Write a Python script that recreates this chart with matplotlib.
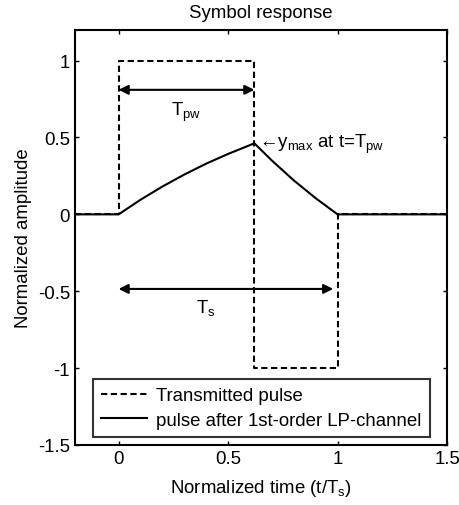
import matplotlib
matplotlib.use('Agg')
import matplotlib.pyplot as plt

plt.rcParams['font.family'] = ['Liberation Sans', 'DejaVu Sans']
plt.rcParams['mathtext.default'] = 'regular'
plt.rcParams['font.size'] = 13.4

# Transmitted pulse (dashed)
tx_t = [-0.2, 0.0, 0.0, 0.62, 0.62, 1.0, 1.0, 1.5]
tx_y = [0.0, 0.0, 1.0, 1.0, -1.0, -1.0, 0.0, 0.0]

# Pulse after the 1st-order LP channel (solid)
rx_t = [-0.2, 0.0, 0.1, 0.2, 0.3, 0.4, 0.5, 0.62, 0.7, 0.8, 0.9, 1.0, 1.5]
rx_y = [0.0, 0.0, 0.095, 0.181, 0.259, 0.33, 0.393, 0.462, 0.35, 0.221, 0.105, 0.0, 0.0]

t_pw = 0.62
y_max = 0.462

fig = plt.figure(figsize=(4.59, 5.06), dpi=100)
ax = fig.add_axes([0.163, 0.1186, 0.811, 0.8204])

ax.plot(tx_t, tx_y, 'k--', lw=1.5, dashes=(3.0, 1.7), label='Transmitted pulse')
ax.plot(rx_t, rx_y, 'k-', lw=1.5, label='pulse after 1st-order LP-channel')

# T_pw arrow
ax.annotate('', xy=(0.0, 0.81), xytext=(t_pw, 0.81),
            arrowprops=dict(arrowstyle='<|-|>', color='k', lw=1.5,
                            mutation_scale=14, shrinkA=0, shrinkB=0))
ax.text(0.31, 0.67, 'T$_{pw}$', ha='center', va='center')

# T_s arrow
ax.annotate('', xy=(0.0, -0.485), xytext=(0.98, -0.485),
            arrowprops=dict(arrowstyle='<|-|>', color='k', lw=1.5,
                            mutation_scale=14, shrinkA=0, shrinkB=0))
ax.text(0.40, -0.6, 'T$_s$', ha='center', va='center')

ax.text(t_pw + 0.02, y_max, '\u2190y$_{max}$ at t=T$_{pw}$', ha='left', va='center')

ax.set_xlim(-0.2, 1.5)
ax.set_ylim(-1.5, 1.2)
ax.set_xticks([0, 0.5, 1, 1.5])
ax.set_xticklabels(['0', '0.5', '1', '1.5'])
ax.set_yticks([-1.5, -1, -0.5, 0, 0.5, 1])
ax.set_yticklabels(['-1.5', '-1', '-0.5', '0', '0.5', '1'])
ax.tick_params(direction='in', top=True, right=True, length=3, width=1)
for s in ax.spines.values():
    s.set_linewidth(1.5)

ax.set_title('Symbol response', fontsize=13.4, pad=9)
ax.set_xlabel('Normalized time (t/T$_s$)', labelpad=7)
ax.set_ylabel('Normalized amplitude')

leg = ax.legend(loc='upper left', bbox_to_anchor=(0.048, 0.159), frameon=True,
                fancybox=False, edgecolor='k', handlelength=2.47, borderpad=0.45,
                labelspacing=0.4, handletextpad=0.48, borderaxespad=0)
leg.get_frame().set_linewidth(1.5)

fig.savefig('out.png', dpi=100)
